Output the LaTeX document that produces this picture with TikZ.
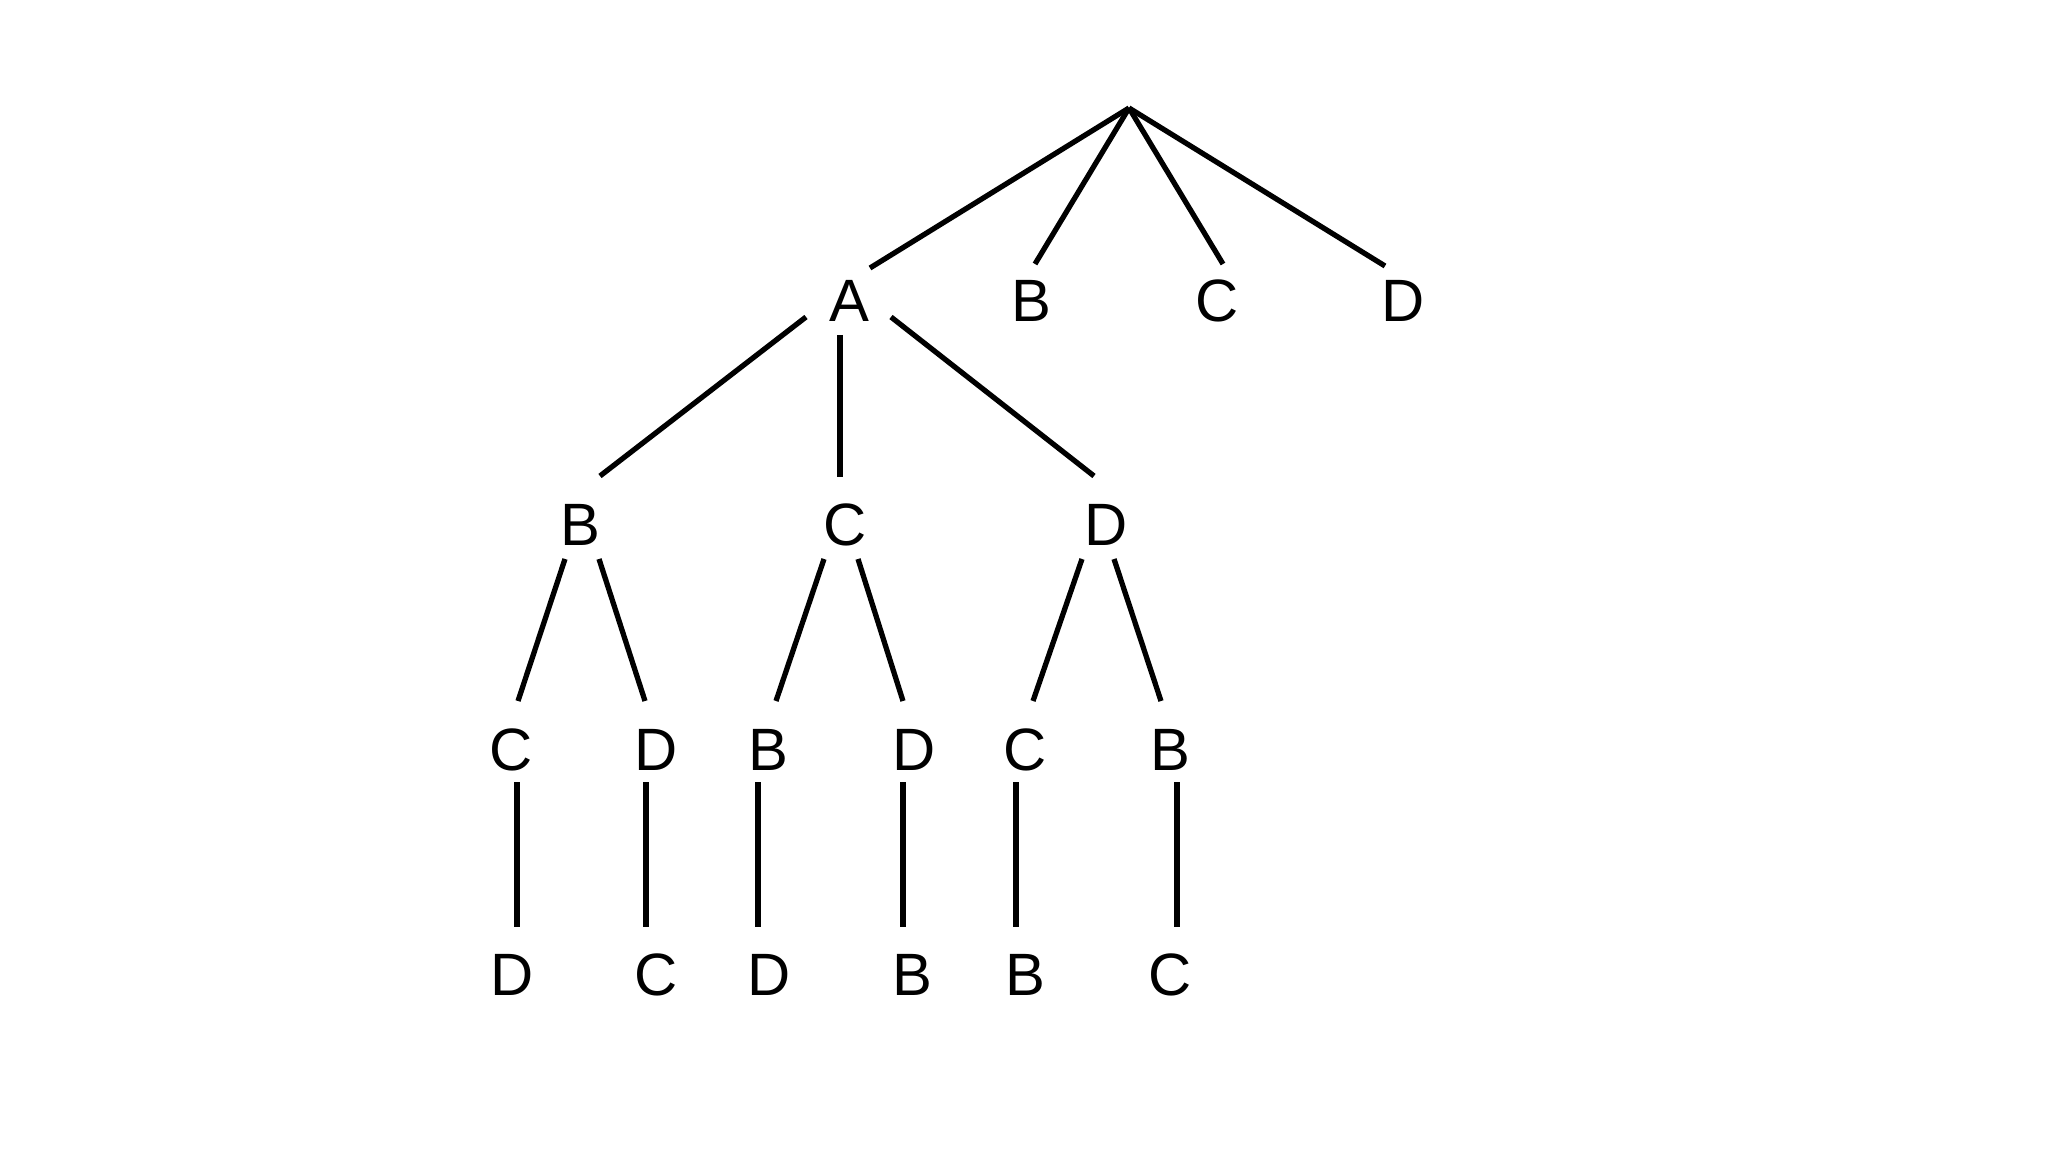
\documentclass[tikz,border=0pt]{standalone}
\usepackage{fontspec}
\setmainfont{Liberation Sans}
\begin{document}
\begin{tikzpicture}[x=0.01cm,y=-0.01cm,
  lbl/.style={font=\fontsize{17}{20}\selectfont, inner sep=0pt, anchor=center},
  edge/.style={line width=1.5pt, line cap=butt}
]
\useasboundingbox (0,0) rectangle (2048,1152);
\fill[white] (0,0) rectangle (2048,1152);

% root
\coordinate (root) at (1129,108);

% level 1
\node[lbl] (a1) at (849,301) {A};
\node[lbl] (b1) at (1031,301) {B};
\node[lbl] (c1) at (1217,301) {C};
\node[lbl] (d1) at (1403,301) {D};

% level 2
\node[lbl] (b2) at (580,525) {B};
\node[lbl] (c2) at (845,525) {C};
\node[lbl] (d2) at (1106,525) {D};

% level 3
\node[lbl] (c3) at (511,750) {C};
\node[lbl] (d3) at (656,750) {D};
\node[lbl] (b3) at (768,750) {B};
\node[lbl] (e3) at (914,750) {D};
\node[lbl] (f3) at (1025,750) {C};
\node[lbl] (g3) at (1170,750) {B};

% level 4
\node[lbl] (d4) at (512,975) {D};
\node[lbl] (c4) at (656,975) {C};
\node[lbl] (e4) at (769,975) {D};
\node[lbl] (b4) at (912,975) {B};
\node[lbl] (f4) at (1025,975) {B};
\node[lbl] (g4) at (1170,975) {C};

% root edges
\draw[edge] (root) -- ([shift={(21,-33)}]a1.center);
\draw[edge] (root) -- ([shift={(4,-37)}]b1.center);
\draw[edge] (root) -- ([shift={(6,-37)}]c1.center);
\draw[edge] (root) -- ([shift={(-18,-35)}]d1.center);

% A edges
\draw[edge] ([shift={(-43,16)}]a1.center) -- ([shift={(20,-49)}]b2.center);
\draw[edge] ([shift={(-9,34)}]a1.center) -- ([shift={(-5,-48)}]c2.center);
\draw[edge] ([shift={(42,16)}]a1.center) -- ([shift={(-12,-49)}]d2.center);

% level 2 -> 3
\draw[edge] ([shift={(-15,34)}]b2.center) -- ([shift={(7,-49)}]c3.center);
\draw[edge] ([shift={(19,34)}]b2.center) -- ([shift={(-11,-49)}]d3.center);
\draw[edge] ([shift={(-21,34)}]c2.center) -- ([shift={(8,-49)}]b3.center);
\draw[edge] ([shift={(13,34)}]c2.center) -- ([shift={(-11,-49)}]e3.center);
\draw[edge] ([shift={(-24,34)}]d2.center) -- ([shift={(8,-49)}]f3.center);
\draw[edge] ([shift={(8,34)}]d2.center) -- ([shift={(-9,-49)}]g3.center);

% level 3 -> 4
\draw[edge] ([shift={(6,32)}]c3.center) -- ([shift={(5,-48)}]d4.center);
\draw[edge] ([shift={(-10,32)}]d3.center) -- ([shift={(-10,-48)}]c4.center);
\draw[edge] ([shift={(-10,32)}]b3.center) -- ([shift={(-11,-48)}]e4.center);
\draw[edge] ([shift={(-11,32)}]e3.center) -- ([shift={(-9,-48)}]b4.center);
\draw[edge] ([shift={(-9,32)}]f3.center) -- ([shift={(-9,-48)}]f4.center);
\draw[edge] ([shift={(7,32)}]g3.center) -- ([shift={(7,-48)}]g4.center);
\end{tikzpicture}
\end{document}
